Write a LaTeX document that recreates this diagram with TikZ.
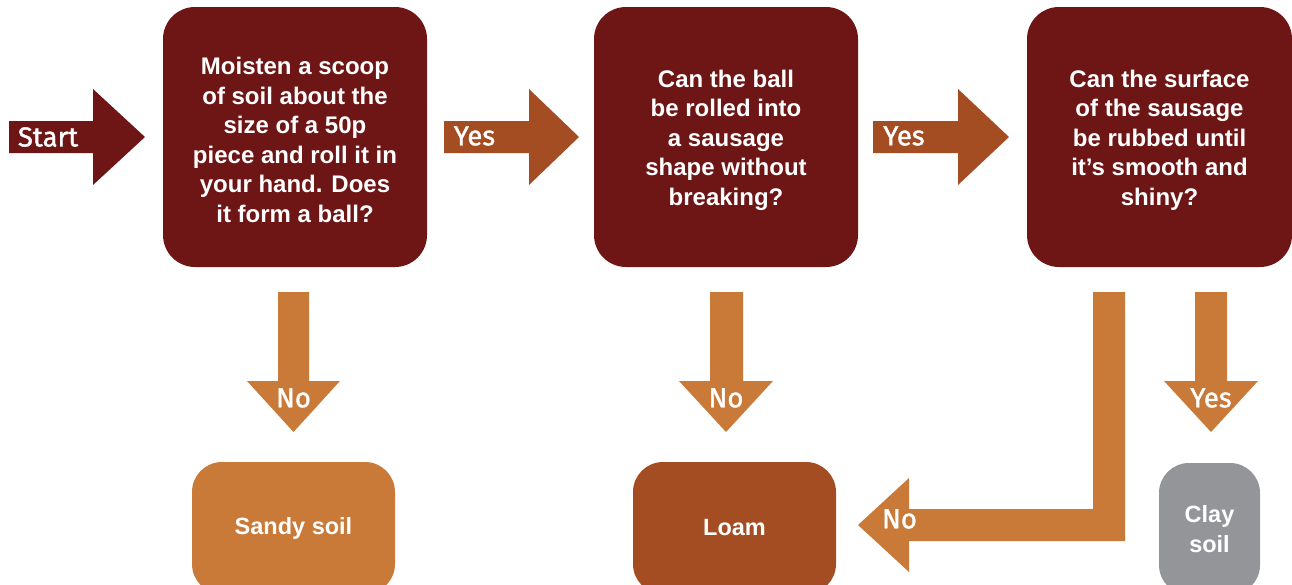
\documentclass[tikz,border=0pt]{standalone}
\usepackage{fontspec}
\setmainfont{Liberation Sans}
\newfontfamily\labelfont[FakeBold=1.3]{Fira Sans}
\definecolor{qred}{RGB}{110,22,22}
\definecolor{ybrown}{RGB}{164,77,35}
\definecolor{orng}{RGB}{201,122,57}
\definecolor{gry}{RGB}{147,149,152}
\begin{document}
\begin{tikzpicture}[x=1pt,y=-1pt,
  qbox/.style={fill=qred,draw=none,rounded corners=32pt,minimum width=264pt,minimum height=260pt,inner sep=0pt},
  qtext/.style={text=white,align=center,font=\fontsize{24}{29.5}\selectfont\bfseries,inner sep=0pt},
  abox/.style={draw=none,rounded corners=30pt,minimum height=132pt,inner sep=0pt,text=white,align=center,font=\fontsize{23.5}{30}\selectfont\bfseries},
  alabel/.style={text=white,font=\labelfont\fontsize{27.5}{30}\selectfont,inner sep=0pt}]
\useasboundingbox (0,0) rectangle (1292,584);
\clip (0,0) rectangle (1292,584);
% question boxes
\node[qbox] (q1) at (295,137) {};
\node[qbox] (q2) at (726,137) {};
\node[qbox,minimum width=265pt] (q3) at (1159.5,137) {};
\node[qtext] (t1) at ([yshift=-3pt]q1.center) {Moisten a scoop\\of soil about the\\size of a 50p\\piece and roll it in\\your hand. Does\\it form a ball?};
\node[qtext] (t2) at ([yshift=-3pt]q2.center) {Can the ball\\be rolled into\\a sausage\\shape without\\breaking?};
\node[qtext] (t3) at ([yshift=-3pt]q3.center) {Can the surface\\of the sausage\\be rubbed until\\it’s smooth and\\shiny?};
% answer boxes
\node[abox,fill=orng,minimum width=203pt] (sandy) at (293.5,528) {Sandy soil};
\node[abox,fill=ybrown,minimum width=203pt] (loam) at (734.5,528) {Loam};
\node[abox,fill=gry,minimum width=101pt] (clay) at (1209.5,529) {Clay\\soil};
% start arrow
\fill[qred] (9,121) -- (93,121) -- (93,89) -- (145,137) -- (93,185) -- (93,153) -- (9,153) -- cycle;
\node[alabel] (start) at (48,137) {Start};
% yes arrows
\fill[ybrown] (444,121) -- (529,121) -- (529,89) -- (579,137) -- (529,185) -- (529,153) -- (444,153) -- cycle;
\node[alabel] (yes1) at (474.5,136) {Yes};
\fill[ybrown] (873,121) -- (958,121) -- (958,89) -- (1009,137) -- (958,185) -- (958,153) -- (873,153) -- cycle;
\node[alabel] (yes2) at (904,136) {Yes};
% down arrows
\fill[orng] (278,292) -- (309,292) -- (309,381) -- (340,381) -- (293.5,432) -- (247,381) -- (278,381) -- cycle;
\node[alabel] (no1) at (293.5,398) {No};
\fill[orng] (710,292) -- (743,292) -- (743,381) -- (773,381) -- (726,432) -- (679,381) -- (710,381) -- cycle;
\node[alabel] (no2) at (726,398) {No};
\fill[orng] (1195,292) -- (1227,292) -- (1227,381) -- (1258,381) -- (1211,432) -- (1164,381) -- (1195,381) -- cycle;
\node[alabel] (yes3) at (1211,398) {Yes};
% L arrow
\fill[orng] (1093,292) -- (1125,292) -- (1125,541) -- (909,541) -- (909,572) -- (858,525) -- (909,478) -- (909,509) -- (1093,509) -- cycle;
\node[alabel] (no3) at (899.5,519) {No};
\end{tikzpicture}
\end{document}
